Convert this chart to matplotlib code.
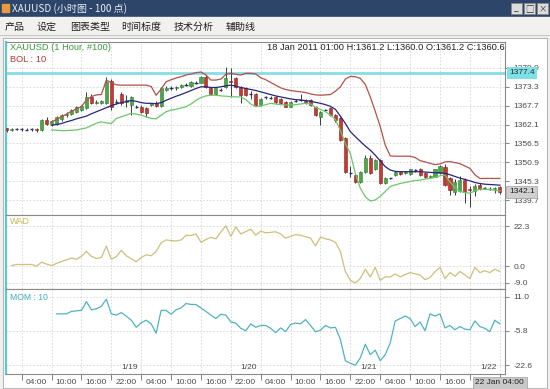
import numpy as np
import pandas as pd
import matplotlib
matplotlib.use('Agg')
import matplotlib.pyplot as plt
import matplotlib.transforms as mtransforms
from matplotlib.patches import Rectangle

W, H = 550, 389
CJK = ['Noto Sans CJK SC', 'DejaVu Sans']
plt.rcParams['font.family'] = ['Liberation Sans', 'DejaVu Sans']

# ---- data (hourly XAUUSD, 100 bars) ----
opens = [1361.2, 1360.6, 1360.9, 1360.7, 1360.8, 1360.6, 1360.8, 1360.4, 1363.4, 1362.2,
         1362.4, 1363.6, 1364.8, 1365.3, 1365.7, 1366.4, 1367.0, 1370.4, 1368.6, 1368.4,
         1368.4, 1375.1, 1368.8, 1371.3, 1368.8, 1367.9, 1367.6, 1367.4, 1366.9, 1367.9,
         1368.6, 1367.6, 1372.5, 1373.0, 1372.8, 1373.1, 1373.9, 1373.5, 1374.6, 1374.5,
         1376.3, 1372.8, 1371.3, 1372.6, 1373.3, 1375.1, 1375.8, 1373.3, 1372.8, 1371.2,
         1371.3, 1367.9, 1370.2, 1370.0, 1370.3, 1369.8, 1368.9, 1367.4, 1369.0, 1369.2,
         1369.2, 1369.4, 1367.4, 1364.4, 1366.2, 1366.9, 1364.9, 1363.9, 1358.0, 1347.6,
         1347.1, 1345.1, 1348.1, 1352.1, 1348.8, 1351.6, 1344.7, 1346.0, 1347.1, 1348.1,
         1347.6, 1347.4, 1348.4, 1348.8, 1347.6, 1346.6, 1346.6, 1347.8, 1349.6, 1346.1,
         1342.2, 1342.5, 1345.6, 1343.0, 1342.5, 1344.2, 1343.2, 1343.0, 1343.1, 1343.7]
highs = [1361.2, 1361.0, 1361.2, 1361.1, 1361.2, 1361.0, 1361.0, 1363.7, 1364.2, 1363.4,
         1364.6, 1365.2, 1365.8, 1366.6, 1367.6, 1368.0, 1371.8, 1371.3, 1369.3, 1369.4,
         1376.1, 1375.6, 1369.6, 1371.8, 1370.8, 1370.5, 1368.0, 1367.8, 1367.2, 1368.6,
         1369.0, 1373.2, 1373.4, 1373.4, 1373.6, 1374.2, 1374.3, 1375.1, 1374.9, 1376.6,
         1376.7, 1373.2, 1373.0, 1373.0, 1379.2, 1378.9, 1376.2, 1373.6, 1373.2, 1372.0,
         1371.6, 1370.0, 1370.6, 1370.5, 1370.6, 1370.1, 1369.2, 1369.2, 1369.6, 1371.3,
         1369.6, 1369.7, 1367.7, 1366.2, 1366.8, 1367.2, 1365.2, 1364.2, 1358.3, 1349.8,
         1347.5, 1348.4, 1353.0, 1353.0, 1352.0, 1351.9, 1346.4, 1346.3, 1348.4, 1348.4,
         1348.3, 1349.0, 1348.8, 1349.2, 1347.9, 1347.2, 1349.0, 1350.2, 1350.5, 1346.5,
         1346.0, 1346.8, 1346.2, 1344.0, 1344.4, 1344.6, 1343.6, 1343.5, 1343.7, 1344.0]
lows = [1360.0, 1360.3, 1360.5, 1360.3, 1360.5, 1360.2, 1360.0, 1360.2, 1362.0, 1361.8,
        1362.0, 1363.2, 1364.4, 1365.0, 1365.4, 1366.0, 1366.8, 1368.2, 1368.3, 1368.1,
        1368.2, 1366.4, 1368.2, 1368.0, 1367.4, 1364.9, 1366.9, 1365.6, 1364.2, 1367.6,
        1367.2, 1367.3, 1372.0, 1372.4, 1372.5, 1372.8, 1373.4, 1373.2, 1374.2, 1374.3,
        1373.0, 1371.0, 1370.9, 1372.0, 1373.0, 1370.3, 1372.9, 1368.4, 1370.5, 1369.8,
        1367.6, 1367.6, 1369.8, 1369.6, 1368.2, 1368.2, 1367.2, 1367.2, 1368.8, 1369.0,
        1368.2, 1367.6, 1364.6, 1361.9, 1366.0, 1364.6, 1362.8, 1357.2, 1347.8, 1346.5,
        1344.8, 1344.8, 1347.8, 1347.3, 1348.5, 1344.4, 1344.4, 1345.8, 1346.9, 1347.0,
        1347.3, 1347.2, 1348.1, 1346.8, 1346.3, 1346.2, 1346.4, 1347.5, 1343.8, 1341.2,
        1341.2, 1342.0, 1338.8, 1337.7, 1341.0, 1342.6, 1342.9, 1342.7, 1341.8, 1341.6]
closes = [1360.6, 1360.9, 1360.7, 1360.8, 1360.6, 1360.8, 1360.4, 1363.4, 1362.2, 1363.1,
          1364.2, 1364.8, 1365.3, 1366.3, 1367.4, 1367.6, 1370.3, 1368.4, 1368.9, 1369.2,
          1374.8, 1367.4, 1368.9, 1368.4, 1369.4, 1370.3, 1367.4, 1365.9, 1365.4, 1368.4,
          1367.6, 1372.8, 1373.0, 1372.8, 1373.2, 1373.9, 1373.7, 1374.8, 1374.5, 1376.3,
          1373.3, 1371.3, 1372.8, 1372.4, 1375.8, 1374.8, 1373.3, 1370.8, 1370.8, 1371.3,
          1367.9, 1369.8, 1370.3, 1370.1, 1368.9, 1368.4, 1367.4, 1368.9, 1369.2, 1369.3,
          1368.4, 1367.9, 1364.9, 1365.9, 1366.4, 1364.9, 1363.4, 1357.5, 1348.1, 1347.6,
          1345.1, 1348.1, 1352.1, 1347.6, 1351.6, 1344.7, 1346.1, 1346.1, 1348.1, 1347.3,
          1348.0, 1348.8, 1348.5, 1347.1, 1346.6, 1346.9, 1348.8, 1349.8, 1344.1, 1342.7,
          1345.1, 1345.6, 1342.2, 1342.7, 1344.0, 1343.0, 1343.3, 1343.1, 1343.4, 1342.1]

# Bollinger (10) bands, first value at bar 9
bol_start = 9
bol_upper = [1362.9, 1363.6, 1364.4, 1365.2, 1366.0, 1366.8, 1367.4, 1369.4, 1370.4, 1370.9,
             1371.0, 1375.3, 1374.5, 1373.9, 1373.8, 1373.8, 1373.8, 1373.8, 1373.8, 1373.8,
             1373.4, 1370.8, 1372.6, 1374.8, 1375.4, 1375.9, 1376.3, 1376.8, 1377.1, 1377.5,
             1377.7, 1376.8, 1375.3, 1375.3, 1375.6, 1377.0, 1377.3, 1377.0, 1376.8, 1377.3,
             1377.3, 1377.1, 1376.0, 1375.4, 1374.6, 1373.8, 1373.0, 1372.5, 1372.2, 1372.0,
             1371.8, 1371.6, 1371.2, 1370.9, 1370.8, 1370.9, 1371.0, 1372.0, 1373.3, 1375.6,
             1376.4, 1376.3, 1375.8, 1374.0, 1370.3, 1366.0, 1361.5, 1356.0, 1352.8, 1352.7,
             1352.7, 1352.7, 1352.7, 1352.3, 1351.4, 1351.0, 1350.6, 1350.2, 1350.4, 1351.0,
             1351.1, 1350.8, 1350.5, 1349.8, 1349.1, 1347.2, 1346.1, 1346.1, 1346.1, 1346.1,
             1346.1]
bol_mid = [1361.9, 1362.1, 1362.4, 1362.9, 1363.3, 1363.8, 1364.2, 1364.6, 1365.3, 1365.9,
           1366.5, 1367.1, 1367.7, 1368.2, 1368.6, 1368.9, 1369.2, 1369.0, 1368.6, 1368.4,
           1368.4, 1368.3, 1368.6, 1369.3, 1369.9, 1370.5, 1371.0, 1371.6, 1372.2, 1372.8,
           1373.3, 1373.3, 1373.1, 1373.1, 1373.3, 1373.6, 1373.8, 1373.5, 1373.1, 1372.8,
           1372.5, 1372.2, 1371.8, 1371.4, 1371.0, 1370.6, 1370.3, 1370.0, 1369.7, 1369.5,
           1369.4, 1369.2, 1369.0, 1368.7, 1368.4, 1368.0, 1367.5, 1366.6, 1364.6, 1362.4,
           1360.0, 1358.5, 1357.1, 1355.7, 1354.5, 1353.0, 1351.3, 1349.6, 1348.6, 1348.2,
           1348.1, 1348.1, 1348.1, 1348.1, 1348.1, 1348.0, 1347.9, 1347.8, 1347.8, 1347.6,
           1347.2, 1346.7, 1346.2, 1345.8, 1345.4, 1344.9, 1344.6, 1344.4, 1344.3, 1344.2,
           1344.1]
bol_lower = [1360.5, 1360.4, 1360.3, 1360.3, 1360.4, 1360.5, 1360.8, 1361.1, 1361.8, 1362.5,
             1362.9, 1362.6, 1362.4, 1363.9, 1364.4, 1364.9, 1365.4, 1365.2, 1364.9, 1364.4,
             1363.9, 1363.8, 1364.9, 1365.9, 1366.4, 1366.6, 1367.0, 1367.4, 1368.2, 1369.3,
             1370.1, 1370.6, 1370.8, 1370.8, 1370.6, 1370.5, 1370.4, 1370.3, 1370.3, 1369.5,
             1368.2, 1367.4, 1367.6, 1368.0, 1368.4, 1368.2, 1368.0, 1367.9, 1367.9, 1368.0,
             1368.2, 1368.4, 1368.2, 1367.2, 1366.6, 1365.9, 1364.9, 1363.6, 1360.3, 1356.5,
             1353.5, 1347.6, 1343.2, 1340.7, 1339.4, 1339.7, 1340.8, 1342.2, 1343.7, 1344.2,
             1344.6, 1344.9, 1345.2, 1345.5, 1345.6, 1345.9, 1346.1, 1346.4, 1346.9, 1347.1,
             1345.0, 1343.4, 1342.3, 1341.9, 1341.7, 1342.4, 1342.9, 1342.9, 1342.8, 1342.6,
             1342.4]
high_level = 1377.4

# WAD, first value at bar 1
wad_start = 1
wad = [0.4, 1.0, 1.0, 1.0, 1.0, 0.0, 2.3, 1.2, 0.4, 1.6,
       2.6, 3.6, 4.5, 3.9, 5.5, 8.2, 5.5, 4.3, 4.9, 11.1,
       3.9, 5.3, 8.8, 5.8, 4.2, 2.5, 4.8, 6.4, 5.8, 8.2,
       13.0, 14.6, 14.2, 14.0, 14.6, 17.2, 17.0, 17.9, 13.3, 14.8,
       16.0, 15.2, 19.0, 22.4, 16.6, 21.8, 17.9, 19.2, 20.5, 17.2,
       19.5, 18.5, 18.8, 19.1, 17.9, 15.6, 16.6, 17.5, 17.2, 16.4,
       15.6, 11.3, 16.2, 15.2, 14.6, 13.3, 8.2, -3.0, -7.8, -9.2,
       -6.8, -1.6, -5.9, -0.6, -7.8, -5.9, -5.9, -4.3, -5.9, -4.6,
       -3.5, -4.2, -4.9, -7.4, -6.2, -3.0, -0.6, -6.8, -3.5, -5.5,
       -2.9, -4.8, -6.8, -0.6, -3.5, -2.5, -3.5, -1.6, -2.9]

# Momentum (10), first value at bar 10
mom_start = 10
mom = [2.6, 2.6, 2.6, 3.8, 4.1, 4.3, 8.6, 4.6, 5.1, 6.3,
       9.8, 2.6, 2.0, 3.2, 1.5, -0.5, -4.0, -1.8, -0.5, -2.3,
       -6.9, 4.3, 4.3, 2.4, 4.6, 5.5, 7.7, 7.2, 7.2, 5.5,
       3.8, 2.0, 0.3, 2.4, 2.0, -1.4, -1.9, -4.5, -5.7, -2.3,
       -4.0, -3.1, -3.1, -4.5, -6.6, -4.3, -6.1, -2.6, -1.9, -2.3,
       -0.2, -3.1, -6.2, -5.4, -3.1, -4.3, -4.0, -10.0, -20.4, -21.6,
       -22.6, -19.0, -12.3, -17.4, -15.2, -20.4, -17.4, -11.7, -0.9, 0.3,
       1.5, 0.3, -3.6, -1.4, -5.7, 2.6, 1.5, 2.6, -4.3, -3.1,
       -5.2, -3.6, -4.9, -5.2, -0.9, -3.6, -4.5, -6.1, -0.5, -2.3]

price_ticks = [1379.0, 1373.3, 1367.7, 1362.1, 1356.5, 1350.9, 1345.3, 1339.7]
wad_ticks = [22.3, 0.0, -9.0]
mom_ticks = [11.0, -5.8, -22.6]

times = pd.date_range('2011-01-18 01:00', periods=len(closes), freq='h')
tick_bars = [i for i, t in enumerate(times) if t.hour % 6 == 4]
day_bars = [i for i, t in enumerate(times) if t.hour == 0]

menu_items = ['产品', '设定', '图表类型', '时间标度', '技术分析', '辅助线']
menu_x = [5, 37, 70, 121, 174, 226]

fig = plt.figure(figsize=(W / 100, H / 100), dpi=100)
fig.patch.set_facecolor('#f0f0f0')

# window chrome drawn in pixel space
bg = fig.add_axes([0, 0, 1, 1], zorder=-10)
bg.set_xlim(0, W)
bg.set_ylim(H, 0)
bg.axis('off')
bg.add_patch(Rectangle((0, 0), W, 17, color='#2c4569'))
bg.add_patch(Rectangle((0, 17), W, 18, color='#f2f1ef'))
bg.plot([0, W], [35, 35], color='#c8c8c8', lw=0.8)
bg.add_patch(Rectangle((3, 38), W - 6, H - 39, fc='white', ec='#b8b8b8', lw=0.8))
bg.add_patch(Rectangle((2, 4), 7, 8, color='#e89a3c'))
for bx, glyph in zip([511, 524, 537], ['_', '□', '×']):
    bg.add_patch(Rectangle((bx, 3), 11, 11, fc='#dcdcdc', ec='#8a8a8a', lw=0.6))
    bg.text(bx + 5.5, 8.5, glyph, ha='center', va='center', fontsize=6,
            color='#303030', family=CJK)
bg.text(12, 9, 'XAUUSD (小时图 - 100 点)', ha='left', va='center', fontsize=7.2,
        color='#e8eef6', family=CJK)
for mx, item in zip(menu_x, menu_items):
    bg.text(mx, 26.5, item, ha='left', va='center', fontsize=7.2, color='#202020', family=CJK)


def panel(y0, y1, ylim, ticks):
    ax = fig.add_axes([6 / W, 1 - y1 / H, 499 / W, (y1 - y0) / H])
    ax.set_xlim(-0.15, 100.05)
    ax.set_ylim(*ylim)
    ax.set_facecolor('white')
    for s in ax.spines.values():
        s.set_color('#8a8a8a')
        s.set_linewidth(0.8)
    ax.spines['left'].set_color('#5ec6cf')
    ax.spines['left'].set_linewidth(1.6)
    ax.yaxis.tick_right()
    ax.set_yticks(ticks)
    ax.set_yticklabels(['%.1f' % t for t in ticks])
    ax.tick_params(axis='y', direction='out', length=3, width=0.6, color='#707070',
                   labelcolor='#4a4a4a', labelsize=6, pad=3)
    ax.set_xticks(tick_bars)
    ax.tick_params(axis='x', length=0, labelbottom=False)
    ax.grid(True, color='#d6d6d6', linestyle=(0, (2, 2)), linewidth=0.6)
    ax.set_axisbelow(True)
    return ax


ax = panel(42, 215, (1335.25, 1386.6), price_ticks)
ax_wad = panel(215, 289, (-12.6, 28.4), wad_ticks)
ax_mom = panel(289, 374, (-26.9, 14.8), mom_ticks)

# candles
x = np.arange(len(closes))
o, h, l, c = (np.array(v) for v in (opens, highs, lows, closes))
up = c >= o
ax.vlines(x, l, h, color='#3a3a3a', lw=0.7, zorder=2)
big = np.abs(c - o) >= 0.25
ax.bar(x[big & up], (c - o)[big & up], bottom=o[big & up], width=0.62,
       color='#4aa84a', edgecolor='#2f7a2f', lw=0.4, zorder=3)
ax.bar(x[big & ~up], (c - o)[big & ~up], bottom=o[big & ~up], width=0.62,
       color='#c23a32', edgecolor='#8a1e1a', lw=0.4, zorder=3)
ax.hlines(c[~big], x[~big] - 0.32, x[~big] + 0.32, color='#2b2b6a', lw=1.0, zorder=3)

bx = np.arange(bol_start, bol_start + len(bol_mid))
ax.plot(bx, bol_upper, color='#b4504c', lw=0.9, zorder=4)
ax.plot(bx, bol_mid, color='#26267a', lw=0.9, zorder=4)
ax.plot(bx, bol_lower, color='#6cc66c', lw=0.9, zorder=4)

ax.axhline(high_level, color='#86dde3', lw=2.0, zorder=1)
ytrans = mtransforms.offset_copy(ax.get_yaxis_transform(), fig=fig, x=4, units='dots')
ax.text(1.0, high_level, '%.1f' % high_level, transform=ytrans, ha='left', va='center',
        fontsize=6, color='#303030', clip_on=False, zorder=10,
        bbox=dict(boxstyle='square,pad=0.25', fc='#7fe1e8', ec='none'))
ax.text(1.0, closes[-1], '%.1f' % closes[-1], transform=ytrans, ha='left', va='center',
        fontsize=6, color='#202020', clip_on=False, zorder=10,
        bbox=dict(boxstyle='square,pad=0.3', fc='#cfcfcf', ec='#a0a0a0', lw=0.5))

ax_wad.plot(np.arange(wad_start, wad_start + len(wad)), wad, color='#c9c27a', lw=0.9)
ax_mom.plot(np.arange(mom_start, mom_start + len(mom)), mom, color='#4fb3c2', lw=0.9)

# time axis under the momentum panel
ax_mom.tick_params(axis='x', direction='out', length=4, width=0.6, color='#707070')
xtrans = mtransforms.offset_copy(ax_mom.get_xaxis_transform(), fig=fig, x=4, y=-9, units='dots')
for k, b in enumerate(tick_bars[:-1]):
    ax_mom.text(b, 0, times[b].strftime('%H:%M'), transform=xtrans, ha='left', va='center',
                fontsize=6, color='#4a4a4a', clip_on=False)
last = tick_bars[-1]
ltrans = mtransforms.offset_copy(ax_mom.get_xaxis_transform(), fig=fig, y=-9, units='dots')
ax_mom.text(last, 0, times[last].strftime('%d %b %H:%M'), transform=ltrans, ha='center',
            va='center', fontsize=6, color='#202020', clip_on=False, zorder=10,
            bbox=dict(boxstyle='square,pad=0.3', fc='#c8c8c8', ec='#a0a0a0', lw=0.5))
dtrans = mtransforms.offset_copy(ax_mom.get_xaxis_transform(), fig=fig, y=3, units='dots')
for b in day_bars:
    ax_mom.text(b, 0, '%d/%d' % (times[b].month, times[b].day), transform=dtrans,
                ha='left', va='bottom', fontsize=6, color='#4a4a4a')

# panel captions
fig.text(10 / W, 1 - 47.5 / H, 'XAUUSD (1 Hour, #100)', fontsize=6.7, color='#3c963c', va='center')
fig.text(10 / W, 1 - 59.5 / H, 'BOL : 10', fontsize=6.7, color='#b03a36', va='center')
fig.text(505 / W, 1 - 47.5 / H,
         '18 Jan 2011 01:00 H:%.1f L:%.1f O:%.1f C:%.1f' % (highs[0], lows[0], opens[0], closes[0]),
         fontsize=6.7, color='#202020', va='center', ha='right')
fig.text(10 / W, 1 - 222 / H, 'WAD', fontsize=6.2, color='#c2b84a', va='center')
fig.text(10 / W, 1 - 297 / H, 'MOM : 10', fontsize=6.2, color='#3fb0c0', va='center')

fig.savefig('out.png', dpi=100)
